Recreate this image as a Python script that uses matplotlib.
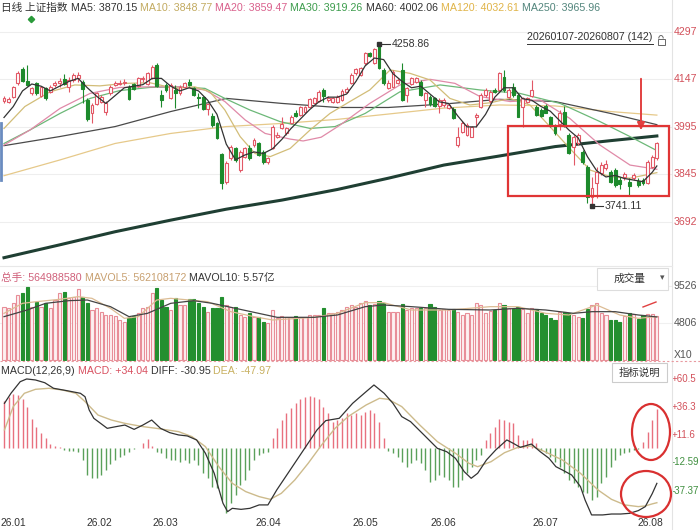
import matplotlib
matplotlib.use("Agg")
import matplotlib.pyplot as plt
from matplotlib.patches import Rectangle, Ellipse, Arc
from matplotlib.transforms import blended_transform_factory

plt.rcParams['font.family'] = ['Liberation Sans', 'Noto Sans CJK SC', 'DejaVu Sans']

# ---------------- data ----------------
opens = [4079, 4076, 4092, 4134, 4179, 4143, 4102, 4136, 4094, 4118,
         4107, 4129, 4134, 4147, 4121, 4145, 4150, 4139, 4081, 4038,
         4068, 4076, 4044, 4102, 4129, 4132, 4134, 4121, 4132, 4126,
         4147, 4132, 4150, 4193, 4097, 4129, 4086, 4113, 4102, 4121,
         4139, 4118, 4092, 4089, 4051, 4030, 4006, 3908, 3820, 3894,
         3926, 3857, 3900, 3926, 3937, 3942, 3916, 3884, 3926, 3964,
         3990, 3974, 4008, 4040, 4033, 4044, 4060, 4072, 4079, 4113,
         4081, 4076, 4076, 4081, 4107, 4134, 4166, 4161, 4198, 4230,
         4198, 4257, 4177, 4118, 4123, 4136, 4177, 4097, 4132, 4139,
         4139, 4081, 4092, 4086, 4062, 4065, 4054, 4051, 3937, 3980,
         3969, 3964, 4025, 4060, 4097, 4079, 4113, 4113, 4155, 4092,
         4121, 4097, 4060, 4076, 4094, 4057, 4049, 4062, 4025, 3998,
         4004, 4044, 3969, 3932, 3942, 3916, 3868, 3772, 3815, 3847,
         3863, 3852, 3857, 3825, 3834, 3820, 3831, 3823, 3825, 3817,
         3868, 3894]
closes = [4086, 4084, 4121, 4168, 4143, 4129, 4118, 4102, 4121, 4086,
          4123, 4136, 4143, 4132, 4145, 4161, 4161, 4115, 4019, 4065,
          4104, 4092, 4072, 4123, 4136, 4136, 4139, 4083, 4115, 4150,
          4150, 4166, 4187, 4126, 4081, 4113, 4129, 4102, 4123, 4134,
          4129, 4097, 4086, 4052, 4068, 4001, 3958, 3815, 3881, 3932,
          3889, 3916, 3926, 3894, 3953, 3905, 3884, 3894, 3996, 3969,
          4004, 3990, 4028, 4030, 4057, 4057, 4083, 4086, 4107, 4094,
          4086, 4086, 4092, 4110, 4115, 4161, 4179, 4182, 4230, 4221,
          4243, 4182, 4134, 4136, 4171, 4145, 4081, 4118, 4150, 4150,
          4097, 4102, 4068, 4062, 4081, 4081, 4065, 4022, 3964, 4008,
          4001, 3994, 4032, 4097, 4113, 4107, 4106, 4166, 4113, 4113,
          4097, 4028, 4086, 4086, 4113, 4033, 4030, 4040, 3998, 3974,
          4038, 4001, 3913, 3964, 3969, 3884, 3772, 3799, 3852, 3873,
          3878, 3820, 3809, 3812, 3844, 3806, 3841, 3809, 3815, 3884,
          3900, 3942]
highs = [4094, 4092, 4126, 4175, 4185, 4193, 4123, 4139, 4126, 4123,
         4129, 4143, 4150, 4163, 4155, 4168, 4171, 4145, 4086, 4070,
         4107, 4097, 4079, 4129, 4143, 4145, 4147, 4129, 4136, 4155,
         4157, 4171, 4193, 4198, 4113, 4134, 4134, 4129, 4129, 4139,
         4147, 4123, 4102, 4094, 4072, 4038, 4011, 3913, 3887, 3937,
         3932, 3921, 3932, 3937, 3958, 3948, 3921, 3900, 4001, 3980,
         4028, 3996, 4033, 4049, 4062, 4062, 4086, 4092, 4113, 4118,
         4094, 4092, 4097, 4115, 4121, 4166, 4184, 4187, 4235, 4235,
         4246, 4258.86, 4182, 4145, 4177, 4150, 4200, 4123, 4155, 4155,
         4145, 4107, 4097, 4092, 4086, 4086, 4070, 4057, 3996, 4015,
         4006, 3998, 4038, 4102, 4118, 4113, 4118, 4171, 4177, 4118,
         4134, 4102, 4092, 4092, 4145, 4065, 4054, 4068, 4030, 4004,
         4049, 4062, 3974, 3969, 3974, 3921, 3873, 3836, 3868, 3884,
         3889, 3857, 3863, 3836, 3852, 3831, 3849, 3831, 3831, 3889,
         3905, 3948]
lows = [4072, 4070, 4086, 4129, 4139, 4126, 4097, 4097, 4092, 4081,
        4102, 4123, 4123, 4129, 4107, 4139, 4139, 4070, 4015, 4006,
        4065, 4070, 4033, 4097, 4126, 4129, 4129, 4081, 4113, 4121,
        4139, 4129, 4147, 4121, 4060, 4107, 4083, 4054, 4097, 4118,
        4126, 4094, 4054, 4049, 4033, 3996, 3955, 3795, 3812, 3889,
        3884, 3852, 3894, 3889, 3932, 3902, 3878, 3878, 3923, 3958,
        3987, 3969, 4004, 4025, 4030, 4038, 4057, 4068, 4076, 4076,
        4076, 4072, 4072, 4079, 4102, 4132, 4161, 4157, 4193, 4217,
        4196, 4179, 4129, 4115, 4121, 4132, 4079, 4076, 4129, 4134,
        4094, 4060, 4062, 4057, 4038, 4060, 4051, 4019, 3932, 3976,
        3966, 3962, 3996, 4054, 4092, 4072, 4102, 4107, 4107, 4086,
        4092, 4025, 3996, 4070, 4089, 4030, 4025, 4038, 3994, 3969,
        3985, 3996, 3908, 3873, 3937, 3878, 3751, 3741.11, 3767, 3841,
        3857, 3815, 3804, 3795, 3825, 3777, 3825, 3804, 3809, 3812,
        3863, 3889]
volumes = [6880, 6670, 7310, 8370, 8580, 9440, 6880, 7520, 6880, 7310,
           6670, 7730, 8580, 8800, 7950, 8160, 9100, 8160, 7310, 6450,
           6670, 6240, 5820, 5820, 5690, 5180, 4960, 5390, 5690, 6030,
           6670, 6880, 8580, 9220, 7730, 6880, 6450, 7950, 7090, 7090,
           7820, 7820, 7390, 6880, 6240, 6670, 6670, 8160, 7090, 6880,
           6880, 5820, 5600, 6110, 5600, 5520, 4960, 4750, 6450, 5390,
           5690, 5600, 5600, 5690, 5520, 5520, 5820, 5820, 5820, 6670,
           6110, 6030, 6240, 6450, 6880, 7090, 6880, 7310, 7650, 7090,
           7220, 7650, 7310, 6240, 6240, 6240, 7220, 6450, 6670, 6670,
           6670, 6670, 7220, 6790, 6450, 6540, 6450, 6540, 6240, 5820,
           6030, 5820, 7390, 7090, 6110, 6370, 6450, 7390, 7090, 6670,
           6540, 6790, 6540, 6110, 6670, 6540, 6110, 5820, 5390, 5180,
           6240, 6240, 6030, 5820, 5600, 5390, 6540, 7090, 7310, 6110,
           5820, 5180, 5180, 4960, 5690, 6030, 5940, 5260, 5820, 5940,
           5940, 5650]

ma5_idx = [0, 2, 4, 6, 8, 10, 12, 14, 16, 18, 20, 22, 24, 26, 28, 30, 32, 34, 36, 38,
           40, 42, 44, 46, 48, 50, 52, 54, 56, 58, 60, 62, 64, 66, 68, 70, 72, 74, 76, 78,
           80, 82, 84, 86, 88, 90, 92, 94, 96, 98, 100, 102, 104, 106, 108, 110, 112, 114,
           116, 118, 120, 122, 124, 126, 128, 130, 132, 134, 136, 138, 140, 141]
ma5_val = [4025, 4060, 4110, 4132, 4125, 4110, 4125, 4140, 4150, 4120, 4093, 4070, 4095,
           4120, 4125, 4130, 4150, 4150, 4125, 4110, 4120, 4110, 4080, 4035, 3940, 3890,
           3905, 3915, 3910, 3925, 3955, 3990, 4020, 4050, 4075, 4090, 4090, 4100, 4140,
           4190, 4215, 4210, 4165, 4140, 4120, 4125, 4100, 4075, 4070, 4030, 3995, 3995,
           4035, 4090, 4120, 4120, 4085, 4080, 4060, 4045, 4015, 3985, 3960, 3900, 3855,
           3835, 3840, 3830, 3825, 3820, 3850, 3870.15]
ma10_idx = [0, 4.5, 9.9, 15.3, 20.7, 26.1, 31.5, 36.9, 41.2, 44.5, 47.7, 51, 54.2, 57.5,
            61.8, 66.1, 70.4, 74.7, 79, 83.4, 87.7, 92, 96.3, 100.6, 105, 109.3, 113.6,
            117.9, 122.2, 126.6, 130.9, 135.2, 141]
ma10_val = [3990, 4060, 4107, 4129, 4126, 4134, 4136, 4118, 4123, 4107, 4049, 3964, 3910,
            3900, 3926, 3985, 4038, 4076, 4113, 4177, 4166, 4145, 4086, 4065, 4072, 4086,
            4065, 3996, 3926, 3857, 3836, 3831, 3848.77]
ma20_idx = [0, 5.6, 12.1, 18.6, 25, 31.5, 38, 43.4, 47.7, 52.1, 56.4, 61.8, 64.6, 68.5,
            72.6, 79, 85.5, 92, 97.4, 102.8, 109.3, 115.8, 122.2, 128.7, 135.2, 141]
ma20_val = [3937, 3985, 4054, 4102, 4121, 4123, 4123, 4113, 4076, 4017, 3974, 3956, 3950,
            3962, 4001, 4070, 4129, 4147, 4134, 4092, 4076, 4081, 4022, 3937, 3873, 3859.47]
ma30_idx = [0, 5.6, 12.1, 18.6, 25, 31.5, 38, 43.4, 47.7, 53.1, 59.6, 66.1, 71.5, 78,
            85.5, 94.2, 102.8, 111.4, 120.1, 128.7, 135.2, 141]
ma30_val = [3942, 3985, 4038, 4086, 4111, 4121, 4123, 4118, 4086, 4049, 4012, 3990, 3996,
            4038, 4107, 4129, 4113, 4102, 4070, 4012, 3964, 3919.26]
long_idx = [0, 12, 24, 36, 48, 60, 72, 83, 95, 107, 119, 131, 141]
ma60_val = [3935, 3964, 3996, 4044, 4086, 4070, 4057, 4057, 4068, 4083, 4076, 4038, 4002.06]
ma120_val = [3839, 3889, 3942, 3974, 3996, 4006, 4019, 4036, 4055, 4065, 4062, 4044, 4032.61]
ma250_val = [3577, 3618, 3660, 3697, 3732, 3761, 3795, 3831, 3873, 3902, 3932, 3951, 3965.96]

mavol10_idx = [0, 5, 9, 14, 18, 23, 27, 31, 36, 41, 45, 50, 55, 59, 67, 72, 78, 82, 88,
               96, 105, 111, 117, 123, 127, 132, 137, 141]
mavol10_val = [5607, 6460, 7312, 7653, 7738, 6886, 5607, 6033, 7312, 7653, 7312, 6673, 6033,
               5522, 5522, 5820, 6886, 7099, 6886, 6545, 6460, 6673, 6460, 6033, 6246, 6246,
               5820, 5570]
mavol5_idx = [0, 4, 7, 12, 16, 19, 23, 26, 29, 33, 36, 40, 44, 49, 54, 58, 67, 72, 78, 82,
              88, 96, 105, 111, 117, 122, 128, 133, 137, 141]
mavol5_val = [6033, 7312, 7525, 7824, 8165, 7952, 6673, 5394, 5607, 7738, 7952, 7738, 7525,
              6246, 5607, 5180, 5522, 6033, 7397, 7397, 6460, 6460, 6886, 6886, 6033, 5820,
              7099, 5820, 5394, 5621]

macd_hist = [41, 45, 48, 47, 43, 36, 26, 19, 13, 9, 4, 2, 1,
             -1.6, -2.2, -2.2, -3.1, -10.4, -23.6, -26.5, -26.5, -23.6, -19.2,
             -13.9, -10.4, -7.5, -6.0, -3.1, -1.0, -0.2, 4.8, 7.8, 1.9,
             -3.1, -4.5, -8.9, -10.4, -10.4, -11.9, -10.4, -13.3, -10.4, -14.8,
             -22.1, -26.5, -33.8, -35.3, -45.6, -57.3, -48.5, -41.2, -32.4, -28,
             -19.2, -10.4, -6, -4, -3.1,
             8.6, 17.4, 24.7, 30.6, 35, 39.4, 42.9, 45.2, 45.8, 45.2,
             42.9, 36.5, 30.6, 23.3, 24.7, 26.2, 30.6, 29.1, 31.2, 29.1,
             32.1, 33.5, 30.6, 23.3, 8.6,
             -2.2, -4.5, -7.5, -11.9, -16.3, -13.3, -10.4, -13.3, -19.2, -29.5,
             -28, -23.6, -25.1, -28, -33.8, -34.4, -28, -22.1, -16.3, -10.4, -6,
             7.2, 13.6, 18.9, 25.3, 24.7, 23.3, 21.8, 11.6, 7.2, 7.2, 8.6, 4.8,
             -1.6, -4.5, -7.5, -11.9, -16.3, -22.1, -28, -30.9, -33.8, -38.2,
             -39.7, -45.6, -42.6, -30.9, -25.1, -16.3, -10.4, -6, -4, -3.1, -1.6, -1.0,
             5.7, 14.5, 24.7, 34.04]
diff_idx = [0.1, 1.5, 3.5, 4.9, 6.8, 8.8, 10.7, 13.6, 16.5, 17.5, 18.4, 19.4, 22.3, 24.2,
            26.1, 28.1, 30, 31.9, 33.8, 35.8, 37.7, 39.6, 41.6, 43.5, 45.4, 47.3, 48.3,
            49.3, 51.2, 53.1, 55.1, 57, 58.9, 61.8, 64.7, 67.6, 69.5, 72.4, 75.3, 78.2,
            79.9, 82.1, 84, 85.9, 87.8, 90.7, 93.6, 95.6, 97.5, 99.4, 100.9, 102.3, 104.2,
            106.2, 108.6, 110, 111.5, 113.9, 115.8, 117.7, 119.2, 120.6, 122.6, 124.5,
            125.5, 126.9, 129.3, 131.2, 133.2, 135.1, 137, 138.5, 140, 141]
diff_val = [39.4, 48.2, 58.4, 60.8, 59.9, 57.5, 52.6, 50.5, 48.2, 45.2, 33.5, 26.2, 17.4,
            18.9, 20.3, 16.5, 20.3, 24.7, 17.4, 13.6, 11.6, 10.7, 7.2, -4.5, -22.1, -48.5,
            -55.8, -52.9, -53.8, -52.9, -49.9, -49.9, -36.8, -19.2, -1.6, 16.0, 24.2, 26.2,
            39.4, 49.6, 55.5, 48.2, 39.4, 27.7, 23.3, 11.6, -0.2, -3.1, -8.9, -20.7, -26.5,
            -22.1, -10.4, -1.6, 7.2, 4.2, 0.7, 3.6, -3.1, -8.9, -16.3, -19.2, -23.6, -33.8,
            -45.6, -58.7, -58.7, -57.9, -57.9, -57.3, -54.9, -51.4, -40, -30.95]
dea_idx = [0.1, 2, 4.4, 6.8, 9.7, 12.6, 15.5, 17.5, 20.3, 23.2, 26.1, 30, 32.9, 37.7, 40.6,
           43.5, 46.4, 49.3, 52.2, 55.1, 57.5, 59.9, 62.8, 65.7, 68.6, 71.5, 74.3, 78.2,
           81.1, 83, 85.9, 89.8, 93.6, 97.5, 100.4, 102.3, 105.2, 108.1, 111, 113.9, 116.8,
           120.6, 124.5, 128.3, 131.2, 134.1, 137, 138.5, 140, 141]
dea_val = [16.0, 36.5, 48.2, 51.7, 52.6, 51.1, 48.2, 40.9, 29.1, 24.7, 21.8, 18.9, 17.4,
           14.5, 10.1, 1.3, -16.3, -30.9, -38.2, -42.6, -45.0, -39.7, -28.0, -13.3, 2.8,
           17.4, 27.7, 37.9, 43.8, 42.9, 36.5, 20.3, 5.7, -4.5, -13.3, -16.3, -11.9, -4.0,
           0.7, 1.9, -3.1, -10.4, -22.1, -36.8, -45.0, -49.9, -51.4, -50.8, -49.0, -47.97]

month_labels = ['26.01', '26.02', '26.03', '26.04', '26.05', '26.06', '26.07', '26.08']
month_idx = [2, 20.7, 34.8, 57, 78, 95, 117, 139.5]
price_ticks = [4297, 4147, 3995, 3845, 3692]
vol_ticks = [9526, 4806]
macd_ticks = [60.5, 36.3, 11.6, -12.59, -37.37]
macd_tick_labels = ['+60.5', '+36.3', '+11.6', '-12.59', '-37.37']

# ---------------- figure ----------------
W, H = 700, 530
fig = plt.figure(figsize=(7, 5.3), dpi=100)
fig.patch.set_facecolor('white')


def px_axes(x0, y0, x1, y1):
    a = fig.add_axes([x0 / W, 1 - y1 / H, (x1 - x0) / W, (y1 - y0) / H])
    a.axis('off')
    return a


XL = (-0.864, 144.27)
ax = px_axes(0, 0, 672, 265)
ax.set_xlim(*XL)
ax.set_ylim(3553.7, 4400.4)
axv = px_axes(0, 266, 672, 361)
axv.set_xlim(*XL)
axv.set_ylim(-64, 12087)
axm = px_axes(0, 362, 672, 518)
axm.set_xlim(*XL)
axm.set_ylim(-61.4, 75.7)
ov = px_axes(0, 0, 700, 530)
ov.set_xlim(0, 700)
ov.set_ylim(530, 0)
ov.patch.set_alpha(0)

RED = '#e25866'
GREEN = '#1d8a2c'
n = len(closes)
idx = list(range(n))
up = [c >= o for o, c in zip(opens, closes)]
ccol = [RED if u else GREEN for u in up]

# grid
for p in price_ticks:
    ax.axhline(p, color='#eeeeee', lw=0.8, zorder=0)
for v in vol_ticks:
    axv.axhline(v, color='#f0f0f0', lw=0.8, zorder=0)

# MA lines
ax.plot(long_idx, ma250_val, color='#1f3f33', lw=2.2, zorder=2)
ax.plot(long_idx, ma120_val, color='#e6c98a', lw=0.9, zorder=2)
ax.plot(long_idx, ma60_val, color='#4a4a4a', lw=0.9, zorder=2)
ax.plot(ma30_idx, ma30_val, color='#6cb878', lw=0.9, zorder=2)
ax.plot(ma20_idx, ma20_val, color='#e08aa8', lw=0.9, zorder=2)
ax.plot(ma10_idx, ma10_val, color='#d2bd78', lw=0.9, zorder=2)
ax.plot(ma5_idx, ma5_val, color='#333333', lw=0.9, zorder=6)

# candles
ax.vlines(idx, lows, highs, colors=ccol, lw=0.8, zorder=4)
bottoms = [min(o, c) for o, c in zip(opens, closes)]
heights = [abs(c - o) for o, c in zip(opens, closes)]
ax.bar(idx, heights, bottom=bottoms, width=0.62,
       color=['white' if u else GREEN for u in up], edgecolor=ccol,
       linewidth=0.8, zorder=5)

# high/low annotations
ihi = highs.index(max(highs))
ilo = lows.index(min(lows))
ax.plot([ihi, ihi + 2.4], [highs[ihi]] * 2, color='#333', lw=0.8, zorder=7)
ax.plot([ihi], [highs[ihi]], marker='s', ms=2.2, color='#333', zorder=7)
ax.text(ihi + 2.7, highs[ihi], f'{highs[ihi]:.2f}', fontsize=7.6, color='#333',
        va='center', ha='left', zorder=7)
ax.plot([ilo, ilo + 2.4], [lows[ilo]] * 2, color='#333', lw=0.8, zorder=7)
ax.plot([ilo], [lows[ilo]], marker='s', ms=2.2, color='#333', zorder=7)
ax.text(ilo + 2.7, lows[ilo], f'{lows[ilo]:.2f}', fontsize=7.6, color='#333',
        va='center', ha='left', zorder=7)

# volume
axv.bar(idx, volumes, width=0.68,
        color=['#fdf1f1' if u else '#238f2f' for u in up],
        edgecolor=['#e88e98' if u else '#238f2f' for u in up], linewidth=0.8, zorder=2)
axv.plot(mavol5_idx, mavol5_val, color='#dcbc94', lw=0.9, zorder=3)
axv.plot(mavol10_idx, mavol10_val, color='#444444', lw=0.9, zorder=3)

# MACD
axm.vlines(idx, 0, macd_hist,
           colors=['#e8707e' if h >= 0 else '#5aa05a' for h in macd_hist], lw=1.0, zorder=2)
axm.plot(dea_idx, dea_val, color='#cdbb8c', lw=1.0, zorder=3)
axm.plot(diff_idx, diff_val, color='#333333', lw=0.9, zorder=4)

# right-side labels
bt = blended_transform_factory(ov.transData, ax.transData)
for p in price_ticks:
    ax.text(674, p, str(p), transform=bt, fontsize=7.6, color='#d2505a',
            va='center', ha='left', clip_on=False)
btv = blended_transform_factory(ov.transData, axv.transData)
for v in vol_ticks:
    axv.text(674, v, str(v), transform=btv, fontsize=7.6, color='#555555',
             va='center', ha='left', clip_on=False)
ov.text(674, 355, 'X10', fontsize=7.6, color='#555555', va='center', ha='left')
btm = blended_transform_factory(ov.transData, axm.transData)
for v, s in zip(macd_ticks, macd_tick_labels):
    axm.text(672, v, s, transform=btm, fontsize=7.0,
             color='#d2505a' if v > 0 else '#3f8f3f', va='center', ha='left', clip_on=False)

# date labels
btd = blended_transform_factory(axm.transData, ov.transData)
for i, s in zip(month_idx, month_labels):
    axm.text(i, 523, s, transform=btd, fontsize=7.4, color='#333333',
             ha='center', va='center', clip_on=False)

# separators
ov.plot([672, 672], [0, 530], color='#e3e3e3', lw=0.8)
ov.plot([0, 672], [266, 266], color='#e8e8e8', lw=0.8)
ov.plot([0, 700], [361, 361], color='#e89aa0', lw=0.8, ls=(0, (2, 2)))
ov.plot([1, 1], [123, 180], color='#6a8cc0', lw=2)

# headers
fig.canvas.draw()
rend = fig.canvas.get_renderer()


def seq_text(x, y, parts, fs=7.7):
    for s, c in parts:
        t = ov.text(x, y, s, fontsize=fs, color=c, va='center', ha='left')
        bb = t.get_window_extent(renderer=rend)
        x += bb.width


seq_text(1, 8, [('日线 ', '#333333'), ('上证指数 ', '#333333'),
                ('MA5: 3870.15 ', '#333333'), ('MA10: 3848.77 ', '#c2aa60'),
                ('MA20: 3859.47 ', '#d9608c'), ('MA30: 3919.26 ', '#3c9c4c'),
                ('MA60: 4002.06 ', '#333333'), ('MA120: 4032.61 ', '#e0b448'),
                ('MA250: 3965.96', '#52857c')])
seq_text(1, 278, [('总手: 564988580 ', '#d0607a'), ('MAVOL5: 562108172 ', '#c8a070'),
                  ('MAVOL10: 5.57亿', '#333333')])
seq_text(1, 371, [('MACD(12,26,9) ', '#333333'), ('MACD: +34.04 ', '#d85060'),
                  ('DIFF: -30.95 ', '#333333'), ('DEA: -47.97', '#c8b060')])

ov.plot([31], [19], marker='D', ms=3.2, color='#2a9a3a')

# date range
ov.text(527, 37, '20260107-20260807 (142)', fontsize=7.7, color='#333333',
        va='center', ha='left')
ov.plot([527, 653], [43.5, 43.5], color='#333333', lw=0.7)
ov.add_patch(Rectangle((657.5, 38.5), 7, 6, fill=False, ec='#666666', lw=0.7))
ov.add_patch(Arc((661, 38.5), 4.5, 6, theta1=180, theta2=360, ec='#666666', lw=0.7))

# boxes
ov.add_patch(Rectangle((597, 268), 71, 22, fc='white', ec='#dddddd', lw=0.8, zorder=8))
ov.text(630, 279, '成交量', fontsize=7.7, color='#333333', ha='center', va='center', zorder=9)
ov.text(662, 278, '▾', fontsize=6.5, color='#555555', ha='center', va='center', zorder=9)
ov.add_patch(Rectangle((612, 363), 55, 19, fc='white', ec='#cccccc', lw=0.8, zorder=8))
ov.text(639.5, 372.5, '指标说明', fontsize=7.5, color='#333333', ha='center', va='center', zorder=9)

# red highlight marks
ov.add_patch(Rectangle((508, 126), 161, 70, fill=False, ec='#e03535', lw=1.6, zorder=8))
ov.annotate('', xy=(641, 133), xytext=(641, 76),
            arrowprops=dict(arrowstyle='-|>', color='#e24040', lw=1.4, mutation_scale=11))
ov.plot([643, 656], [307, 302], color='#e04040', lw=1.0)
ov.add_patch(Ellipse((651, 432), 38, 56, fill=False, ec='#d93030', lw=1.6, zorder=8))
ov.add_patch(Ellipse((646, 494), 50, 46, fill=False, ec='#d93030', lw=1.6, zorder=8))

fig.savefig('out.png', dpi=100, facecolor='white')
